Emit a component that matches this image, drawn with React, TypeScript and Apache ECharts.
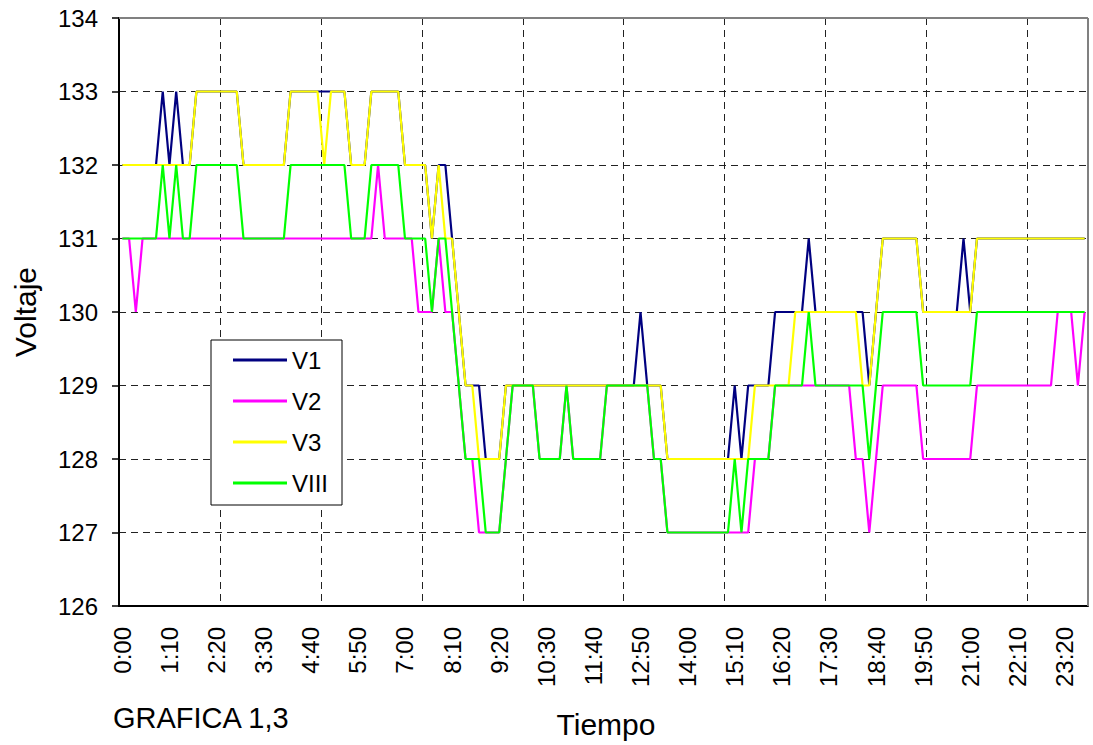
import React, { useEffect, useRef } from "react";
import * as echarts from "echarts";

// Categories: every 10 minutes of a day
const categories: string[] = Array.from({ length: 144 }, (_, i) => {
  const h = Math.floor((i * 10) / 60);
  const m = (i * 10) % 60;
  return `${h}:${m === 0 ? "00" : String(m)}`;
});

const yTicks = { min: 126, max: 134, step: 1 };

const v1: number[] = [
  132,132,132,132,132,132,133,132,133,132,
  132,133,133,133,133,133,133,133,132,132,
  132,132,132,132,132,133,133,133,133,133,
  133,133,133,133,132,132,132,133,133,133,
  133,133,132,132,132,132,131,132,132,131,
  130,129,129,129,128,128,128,129,129,129,
  129,129,129,129,129,129,129,129,129,129,
  129,129,129,129,129,129,129,130,129,129,
  129,128,128,128,128,128,128,128,128,128,
  128,129,128,129,129,129,129,130,130,130,
  130,130,131,130,130,130,130,130,130,130,
  130,129,130,131,131,131,131,131,131,130,
  130,130,130,130,130,131,130,131,131,131,
  131,131,131,131,131,131,131,131,131,131,
  131,131,131,131,
];

const v2: number[] = [
  131,131,130,131,131,131,131,131,131,131,
  131,131,131,131,131,131,131,131,131,131,
  131,131,131,131,131,131,131,131,131,131,
  131,131,131,131,131,131,131,131,132,131,
  131,131,131,131,130,130,130,131,130,130,
  129,128,128,127,127,127,127,128,129,129,
  129,129,128,128,128,128,129,128,128,128,
  128,128,129,129,129,129,129,129,129,128,
  128,127,127,127,127,127,127,127,127,127,
  127,127,127,127,128,128,128,129,129,129,
  129,129,129,129,129,129,129,129,129,128,
  128,127,128,129,129,129,129,129,129,128,
  128,128,128,128,128,128,128,129,129,129,
  129,129,129,129,129,129,129,129,129,130,
  130,130,129,130,
];

const v3: number[] = [
  132,132,132,132,132,132,132,132,132,132,
  132,133,133,133,133,133,133,133,132,132,
  132,132,132,132,132,133,133,133,133,133,
  132,133,133,133,132,132,132,133,133,133,
  133,133,132,132,132,132,131,132,131,131,
  130,129,129,128,128,128,128,129,129,129,
  129,129,129,129,129,129,129,129,129,129,
  129,129,129,129,129,129,129,129,129,129,
  129,128,128,128,128,128,128,128,128,128,
  128,128,128,128,129,129,129,129,129,129,
  130,130,130,130,130,130,130,130,130,130,
  129,129,130,131,131,131,131,131,131,130,
  130,130,130,130,130,130,130,131,131,131,
  131,131,131,131,131,131,131,131,131,131,
  131,131,131,131,
];

const viii: number[] = [
  131,131,131,131,131,131,132,131,132,131,
  131,132,132,132,132,132,132,132,131,131,
  131,131,131,131,131,132,132,132,132,132,
  132,132,132,132,131,131,131,132,132,132,
  132,132,131,131,131,131,130,131,131,130,
  129,128,128,128,127,127,127,128,129,129,
  129,129,128,128,128,128,129,128,128,128,
  128,128,129,129,129,129,129,129,129,128,
  128,127,127,127,127,127,127,127,127,127,
  127,128,127,128,128,128,128,129,129,129,
  129,129,130,129,129,129,129,129,129,129,
  129,128,129,130,130,130,130,130,130,129,
  129,129,129,129,129,129,129,130,130,130,
  130,130,130,130,130,130,130,130,130,130,
  130,130,130,130,
];

const seriesNames = ["V1", "V2", "V3", "VIII"];
const seriesColors = ["#000080", "#FF00FF", "#FFFF00", "#00FF00"];
const seriesData = [v1, v2, v3, viii];

const FONT = "'Liberation Sans', Arial, sans-serif";
const W = 1093;
const H = 745;
const G = { left: 119, right: 5, top: 18, bottom: 139 };

export default function App() {
  const ref = useRef<HTMLDivElement>(null);
  useEffect(() => {
    if (!ref.current) return;
    const chart = echarts.init(ref.current, undefined, { renderer: "svg" });
    const plotRight = W - G.right;
    const plotBottom = H - G.bottom;
    chart.setOption({
      animation: false,
      backgroundColor: "#ffffff",
      textStyle: { fontFamily: FONT },
      grid: { left: G.left, right: G.right, top: G.top, bottom: G.bottom, containLabel: false },
      legend: {
        orient: "vertical",
        left: 211,
        top: 340,
        data: seriesNames,
        icon: "rect",
        itemWidth: 54,
        itemHeight: 3,
        itemGap: 17,
        padding: [8, 14, 10, 22],
        backgroundColor: "#ffffff",
        borderColor: "#000000",
        borderWidth: 1,
        textStyle: { fontFamily: FONT, fontSize: 24, color: "#000", lineHeight: 24 },
      },
      xAxis: {
        type: "category",
        data: categories,
        boundaryGap: true,
        axisLine: { show: true, lineStyle: { color: "#000", width: 2 } },
        axisTick: { show: false },
        axisLabel: {
          interval: 6,
          rotate: 90,
          margin: 21,
          fontSize: 24,
          color: "#000",
          fontFamily: FONT,
        },
        splitLine: {
          show: true,
          interval: 14,
          lineStyle: { color: "#222", width: 1, type: [7, 5] },
        },
      },
      yAxis: {
        type: "value",
        min: yTicks.min,
        max: yTicks.max,
        interval: yTicks.step,
        axisLine: { show: true, lineStyle: { color: "#000", width: 2 } },
        axisTick: { show: true, length: 7, lineStyle: { color: "#000", width: 1.5 } },
        axisLabel: { margin: 21, fontSize: 24, color: "#000", fontFamily: FONT },
        splitLine: { show: true, lineStyle: { color: "#222", width: 1, type: [7, 5] } },
      },
      series: seriesNames.map((name, k) => ({
        name,
        type: "line",
        data: seriesData[k],
        symbol: "none",
        showSymbol: false,
        lineStyle: { color: seriesColors[k], width: 2.2 },
        itemStyle: { color: seriesColors[k] },
        z: 3 + k,
      })),
      graphic: [
        {
          type: "line",
          z: 100,
          shape: { x1: G.left, y1: G.top, x2: plotRight, y2: G.top },
          style: { stroke: "#808080", lineWidth: 2 },
        },
        {
          type: "line",
          z: 100,
          shape: { x1: plotRight, y1: G.top, x2: plotRight, y2: plotBottom },
          style: { stroke: "#808080", lineWidth: 2 },
        },
        {
          type: "text",
          x: 25,
          y: 312,
          rotation: Math.PI / 2,
          style: {
            text: "Voltaje",
            fontSize: 30,
            fontFamily: FONT,
            fill: "#000",
            textAlign: "center",
            textVerticalAlign: "middle",
          },
        },
        {
          type: "text",
          x: 606,
          y: 724,
          style: {
            text: "Tiempo",
            fontSize: 30,
            fontFamily: FONT,
            fill: "#000",
            textAlign: "center",
            textVerticalAlign: "middle",
          },
        },
        {
          type: "text",
          x: 113,
          y: 718,
          style: {
            text: "GRAFICA 1,3",
            fontSize: 29,
            fontFamily: FONT,
            fill: "#000",
            textAlign: "left",
            textVerticalAlign: "middle",
          },
        },
      ],
    });
    return () => chart.dispose();
  }, []);
  return (
    <div
      ref={ref}
      style={{ position: "fixed", left: 0, top: 0, width: W, height: H, background: "#fff" }}
    />
  );
}
